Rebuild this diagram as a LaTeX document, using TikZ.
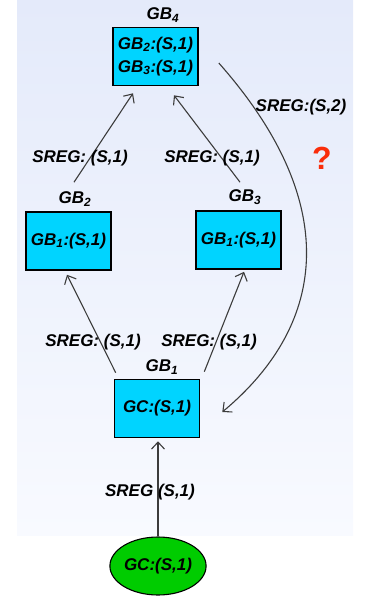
\documentclass[tikz,border=0pt]{standalone}
\usepackage{fontspec}
\setmainfont{Liberation Sans}
\usetikzlibrary{arrows.meta,calc,shapes.geometric}
\definecolor{boxfill}{RGB}{0,212,255}
\definecolor{ellfill}{RGB}{0,204,0}
\definecolor{linegray}{RGB}{60,60,60}
\definecolor{panelTop}{RGB}{228,234,250}
\definecolor{panelBot}{RGB}{248,250,255}
\definecolor{qred}{RGB}{250,45,10}
\tikzset{
  every node/.style={font=\bfseries\itshape\fontsize{17}{19}\selectfont, inner sep=0pt},
  gbox/.style={draw=black, line width=1.6pt, fill=boxfill, minimum width=85pt, minimum height=58pt, align=center},
  gell/.style={ellipse, draw=black, line width=1.1pt, fill=ellfill, minimum width=79pt, minimum height=58pt},
  lbl/.style={text=black},
  conn/.style={draw=linegray, line width=1.1pt, -{Straight Barb[length=7pt,width=13pt,line width=1.1pt]}},
}
\begin{document}
\begin{tikzpicture}[x=1pt,y=-1pt]
  % page frame and shaded panel
  \useasboundingbox (0,0) rectangle (368,601);
  \shade[top color=panelTop, bottom color=panelBot] (17,0) rectangle (353,535);

  % boxes
  \node[gbox] (gb4) at (155.5,56.5) {GB\textsubscript{2}:(S,1)\\[4pt]GB\textsubscript{3}:(S,1)};
  \node[gbox] (gb2) at (68.5,241) {GB\textsubscript{1}:(S,1)};
  \node[gbox] (gb3) at (238.5,240) {GB\textsubscript{1}:(S,1)};
  \node[gbox] (gb1) at (157,408.5) {GC:(S,1)};
  \node[gell] (gc) at (158,566) {GC:(S,1)};

  % box titles
  \node[lbl] (t4) at (163,15) {GB\textsubscript{4}};
  \node[lbl] (t2) at (75,199) {GB\textsubscript{2}};
  \node[lbl] (t3) at (245,197) {GB\textsubscript{3}};
  \node[lbl] (t1) at (162,367) {GB\textsubscript{1}};

  % connectors
  \draw[conn] (gc.north) -- ($(gb1.south)+(1,3)$);
  \draw[conn] ($(gb1.north west)+(2,-6)$) -- ($(gb2.south)+(-1.5,4)$);
  \draw[conn] ($(gb1.north east)+(4,-7)$) -- ($(gb3.south)+(5.5,2)$);
  \draw[conn] ($(gb2.north)+(5.5,-29)$) -- ($(gb4.south)+(-22.5,7)$);
  \draw[conn] ($(gb3.north)+(1.5,-28)$) -- ($(gb4.south)+(18.5,9)$);
  \draw[conn] ($(gb4.east)+(20,6.5)$) .. controls (340,200) and (330,322) .. ($(gb1.east)+(22,3.5)$);

  % connector labels
  \node[lbl] (l1) at (80,158) {SREG: (S,1)};
  \node[lbl] (l2) at (212,158) {SREG: (S,1)};
  \node[lbl] (l3) at (93,342) {SREG: (S,1)};
  \node[lbl] (l4) at (209,342) {SREG: (S,1)};
  \node[lbl] (l5) at (150,492) {SREG (S,1)};
  \node[lbl] (l6) at (301,107) {SREG:(S,2)};
  \node[text=qred, font=\bfseries\fontsize{32}{34}\selectfont] (q) at (322,158) {?};
\end{tikzpicture}
\end{document}
